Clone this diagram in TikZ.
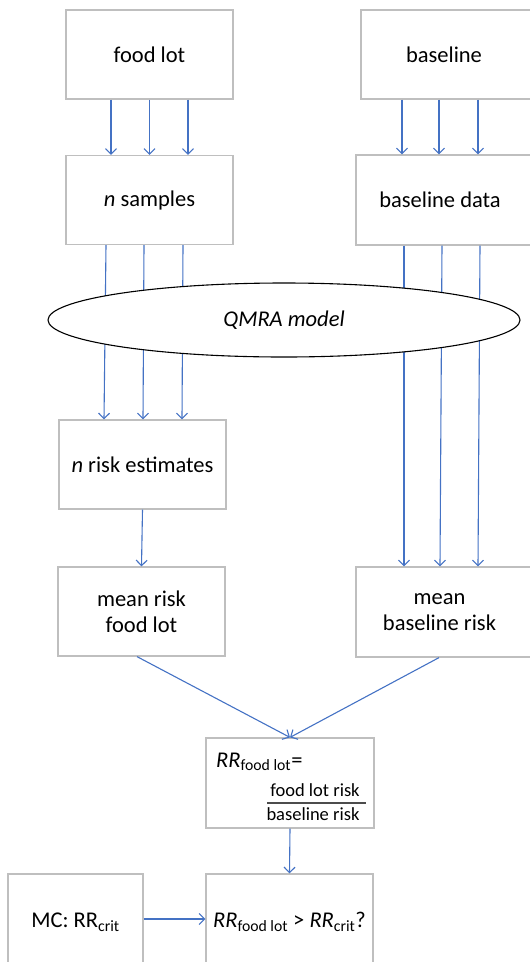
\documentclass[tikz,border=0pt]{standalone}
\usepackage{fontspec}
\setmainfont{Carlito}
\usetikzlibrary{arrows.meta,shapes.geometric}
\definecolor{boxgray}{HTML}{BFBFBF}
\definecolor{arrblue}{HTML}{4472C4}
\begin{document}
\begin{tikzpicture}[x=1pt,y=-1pt,
  box/.style={draw=boxgray, line width=1.2pt, minimum width=167pt, minimum height=89pt,
    inner sep=0pt, align=center, font=\fontsize{22.5}{26}\selectfont},
  txt/.style={inner sep=0pt, align=center, font=\fontsize{22.5}{26}\selectfont},
  small/.style={inner sep=0pt, font=\fontsize{18.5}{21}\selectfont},
  arr/.style={draw=arrblue, line width=1.1pt, -{Straight Barb[length=5.5pt,width=11pt]}},
]
\useasboundingbox (0,0) rectangle (530,962);
\clip (0,0) rectangle (530,962);
% left column
\node[box] (food) at (149.5,54.5) {food lot};
\node[box] (samples) at (149.5,200) {\textit{n} samples};
\node[box] (riskest) at (142.5,464.5) {\textit{n} risk estimates};
\node[box] (meanfood) at (141.5,611.5) {mean risk\\food lot};
% right column (cut by the page edge)
\node[box, minimum width=200pt] (base) at (461,54.5) {};
\node[txt] (basetxt) at (444,54.5) {baseline};
\node[box, minimum width=200pt, minimum height=90pt] (bdata) at (456,200) {};
\node[txt] (bdatatxt) at (440,200) {baseline data};
\node[box, minimum width=200pt, minimum height=90pt] (meanbase) at (456,612) {};
\node[txt] (meanbasetxt) at (439.5,612) {mean\\baseline risk};
% bottom
\node[box, minimum width=168pt, minimum height=90pt] (RR) at (290,783) {};
\node[anchor=base west, inner sep=0pt, font=\fontsize{22.5}{26}\selectfont] (rrlhs) at (216,767)
  {\textit{RR}\textsubscript{food lot}=};
\node[small, anchor=base] (num) at (315,796) {food lot risk};
\node[small, anchor=base] (den) at (313,820) {baseline risk};
\draw[line width=1.2pt, black!70] (267,803) -- (366,803);
\node[box, minimum height=96pt] (test) at (289.5,922)
  {\textit{RR}\textsubscript{food lot} > \textit{RR}\textsubscript{crit}?};
\node[box, minimum width=135pt, minimum height=96pt] (MC) at (75.5,922) {MC: RR\textsubscript{crit}};
% connectors
\foreach \d in {-38.5,0,38.5}
  \draw[arr] ([xshift=\d pt]food.south) -- ([xshift=\d pt]samples.north);
\foreach \a/\b in {-59/-54,-22/-17,17/22}
  \draw[arr] ([xshift=\a pt]base.south) -- ([xshift=\b pt]bdata.north);
\foreach \a/\b in {-43.5/-38.5,-5.5/0.5,33.5/39.5}
  \draw[arr] ([xshift=\a pt]samples.south) -- ([xshift=\b pt]riskest.north);
\foreach \a/\b in {-52/-52,-14/-16,24/22}
  \draw[arr] ([xshift=\a pt]bdata.south) -- ([xshift=\b pt]meanbase.north);
\node[ellipse, draw=black, fill=white, line width=1.1pt, minimum width=472pt, minimum height=74pt,
  inner sep=0pt, font=\fontsize{22.5}{26}\selectfont\itshape] (qmra) at (284,320) {QMRA model};
\draw[arr] (riskest.south) -- (meanfood.north);
\draw[arr] ([xshift=-4.5pt]meanfood.south) -- (RR.north);
\draw[arr] ([xshift=-17pt]meanbase.south) -- (RR.north);
\draw[arr] (RR.south) -- (test.north);
\draw[arr] ([yshift=3pt]MC.east) -- ([yshift=3pt]test.west);
\end{tikzpicture}
\end{document}
